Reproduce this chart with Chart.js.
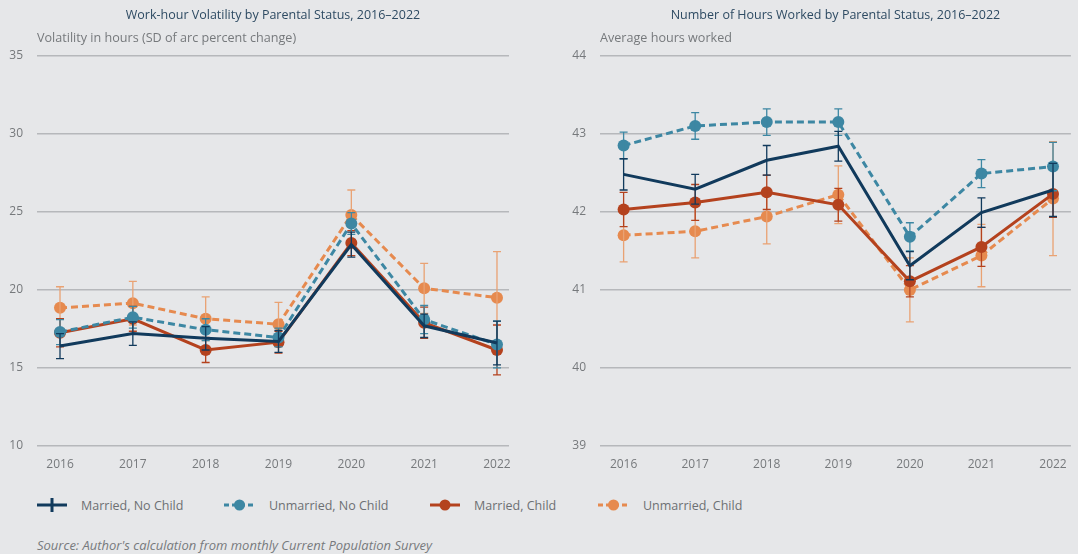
<!DOCTYPE html>
<html>
<head>
<meta charset="utf-8">
<script src="https://cdn.jsdelivr.net/npm/chart.js@4.4.1/dist/chart.umd.min.js"></script>
<style>
  body { margin: 0; background: #e6e7e9; font-family: "Open Sans", sans-serif; }
  #wrap { position: relative; width: 1078px; height: 554px; overflow: hidden; }
  .box { position: absolute; top: 0; height: 492px; }
  #leftBox { left: 0; width: 540px; }
  #rightBox { left: 540px; width: 538px; }
  .leg { position: absolute; top: 497px; height: 16px; display: flex; align-items: center; font-size: 12.5px; color: #6d7073; }
  .leg svg { margin-right: 14px; }
  #source { position: absolute; left: 37px; top: 536px; font-size: 13px; font-style: italic; color: #777a7d; }
</style>
</head>
<body>
<div id="wrap">
  <div class="box" id="leftBox"><canvas id="volChart"></canvas></div>
  <div class="box" id="rightBox"><canvas id="hoursChart"></canvas></div>

  <div class="leg" style="left:37px">
    <svg width="30" height="16"><line x1="0" y1="8" x2="30" y2="8" stroke="#113a5c" stroke-width="3"/><line x1="15" y1="1" x2="15" y2="15" stroke="#113a5c" stroke-width="3"/></svg>Married, No Child
  </div>
  <div class="leg" style="left:224px">
    <svg width="31" height="16"><line x1="0" y1="8" x2="31" y2="8" stroke="#3d87a3" stroke-width="3" stroke-dasharray="5,3"/><circle cx="15.5" cy="8" r="5.5" fill="#3d87a3"/></svg>Unmarried, No Child
  </div>
  <div class="leg" style="left:430px">
    <svg width="30" height="16"><line x1="0" y1="8" x2="30" y2="8" stroke="#b4421e" stroke-width="3"/><circle cx="15" cy="8" r="5.5" fill="#b4421e"/></svg>Married, Child
  </div>
  <div class="leg" style="left:598px">
    <svg width="31" height="16"><line x1="0" y1="8" x2="31" y2="8" stroke="#e68a4f" stroke-width="3" stroke-dasharray="5,3"/><circle cx="15.5" cy="8" r="5.5" fill="#e68a4f"/></svg>Unmarried, Child
  </div>
  <div id="source">Source: Author's calculation from monthly Current Population Survey</div>
</div>

<script>
const years = [2016, 2017, 2018, 2019, 2020, 2021, 2022];

// volatility (SD of arc percent change) and half-width of the error bars
const volMarriedNoChild = [16.4, 17.2, 16.9, 16.7, 22.9, 17.7, 16.6];
const volMarriedNoChildErr = [0.8, 0.75, 0.75, 0.7, 0.8, 0.75, 1.4];
const volUnmarriedNoChild = [17.3, 18.25, 17.45, 16.95, 24.25, 18.1, 16.5];
const volUnmarriedNoChildErr = [0.8, 0.7, 0.7, 0.6, 0.7, 0.9, 1.5];
const volMarriedChild = [17.25, 18.15, 16.15, 16.65, 23.0, 17.9, 16.15];
const volMarriedChildErr = [0.9, 0.8, 0.8, 0.7, 0.8, 1.0, 1.6];
const volUnmarriedChild = [18.85, 19.15, 18.15, 17.8, 24.8, 20.1, 19.5];
const volUnmarriedChildErr = [1.35, 1.4, 1.4, 1.4, 1.6, 1.6, 2.95];

// average weekly hours worked
const hrsMarriedNoChild = [42.48, 42.29, 42.66, 42.84, 41.31, 41.99, 42.28];
const hrsMarriedNoChildErr = [0.2, 0.19, 0.19, 0.19, 0.18, 0.19, 0.34];
const hrsUnmarriedNoChild = [42.85, 43.10, 43.15, 43.15, 41.68, 42.49, 42.58];
const hrsUnmarriedNoChildErr = [0.17, 0.17, 0.17, 0.17, 0.18, 0.18, 0.31];
const hrsMarriedChild = [42.03, 42.12, 42.25, 42.09, 41.11, 41.55, 42.23];
const hrsMarriedChildErr = [0.22, 0.23, 0.22, 0.21, 0.2, 0.25, 0.3];
const hrsUnmarriedChild = [41.70, 41.75, 41.94, 42.22, 41.00, 41.44, 42.17];
const hrsUnmarriedChildErr = [0.34, 0.34, 0.35, 0.37, 0.41, 0.4, 0.73];

const navy = '#113a5c', teal = '#3d87a3', rust = '#b4421e', peach = '#e68a4f';
const gridColor = '#b6b8bb', tickColor = '#76797c';

// vertical error bars with small caps, drawn right after each dataset
const errorBars = {
  id: 'errorBars',
  afterDatasetDraw(chart, args) {
    const ds = chart.data.datasets[args.index];
    if (!ds.errors) return;
    const ctx = chart.ctx, xs = chart.scales.x, ys = chart.scales.y;
    ctx.save();
    ctx.strokeStyle = ds.errorColor;
    ctx.lineWidth = 1.3;
    ds.data.forEach(function(p, i) {
      const px = xs.getPixelForValue(p.x);
      const top = ys.getPixelForValue(p.y + ds.errors[i]);
      const bot = ys.getPixelForValue(p.y - ds.errors[i]);
      ctx.beginPath();
      ctx.moveTo(px, top); ctx.lineTo(px, bot);
      ctx.moveTo(px - 4, top); ctx.lineTo(px + 4, top);
      ctx.moveTo(px - 4, bot); ctx.lineTo(px + 4, bot);
      ctx.stroke();
    });
    ctx.restore();
  }
};

function serie(label, values, errors, color, errColor, dashed, radius) {
  return {
    label: label,
    data: years.map((y, i) => ({ x: y, y: values[i] })),
    errors: errors,
    errorColor: errColor,
    borderColor: color,
    backgroundColor: color,
    borderWidth: 3,
    borderDash: dashed ? [7, 4] : [],
    pointRadius: radius,
    pointBorderWidth: 0,
    tension: 0
  };
}

function crearGrafico(idCanvas, titulo, subtitulo, datasets, yMin, yMax, yStep, xMin, xMax, axisWidth, padRight) {
  const ctx = document.getElementById(idCanvas).getContext('2d');
  return new Chart(ctx, {
    type: 'line',
    data: { datasets: datasets },
    options: {
      responsive: true,
      maintainAspectRatio: false,
      animation: false,
      layout: { padding: { left: 0, right: padRight, top: 0, bottom: 9.6 } },
      plugins: {
        legend: { display: false },
        tooltip: { enabled: false },
        title: {
          display: true, text: titulo, fullSize: false,
          color: '#2e4b63', font: { family: 'Open Sans', size: 12.5, weight: 'normal' },
          padding: { top: 8, bottom: 7 }
        },
        subtitle: {
          display: true, text: subtitulo, fullSize: false, align: 'start',
          color: '#76797c', font: { family: 'Open Sans', size: 12.6 },
          padding: { top: 1, bottom: 9.6 }
        }
      },
      scales: {
        x: {
          type: 'linear', min: xMin, max: xMax,
          afterBuildTicks: function(scale) { scale.ticks = years.map(v => ({ value: v })); },
          grid: { display: false, drawTicks: false },
          border: { display: false },
          ticks: {
            color: tickColor, padding: 11, autoSkip: false, maxRotation: 0,
            font: { family: 'Open Sans', size: 12 },
            callback: v => String(v)
          }
        },
        y: {
          min: yMin, max: yMax,
          afterFit: function(scale) { scale.width = axisWidth; },
          grid: { color: gridColor, lineWidth: 1.6, drawTicks: false },
          border: { display: false },
          ticks: {
            stepSize: yStep, color: tickColor, padding: 14,
            font: { family: 'Open Sans', size: 12 }
          }
        }
      }
    },
    plugins: [errorBars]
  });
}

crearGrafico('volChart',
  'Work-hour Volatility by Parental Status, 2016\u20132022',
  'Volatility in hours (SD of arc percent change)',
  [
    serie('Married, No Child', volMarriedNoChild, volMarriedNoChildErr, navy, navy, false, 0),
    serie('Unmarried, No Child', volUnmarriedNoChild, volUnmarriedNoChildErr, teal, teal, true, 6),
    serie('Married, Child', volMarriedChild, volMarriedChildErr, rust, rust, false, 6),
    serie('Unmarried, Child', volUnmarriedChild, volUnmarriedChildErr, peach, '#e9a273', true, 6)
  ],
  10, 35, 5, 2015.684, 2022.165, 37, 31);

crearGrafico('hoursChart',
  'Number of Hours Worked by Parental Status, 2016\u20132022',
  'Average hours worked',
  [
    serie('Married, No Child', hrsMarriedNoChild, hrsMarriedNoChildErr, navy, navy, false, 0),
    serie('Unmarried, No Child', hrsUnmarriedNoChild, hrsUnmarriedNoChildErr, teal, teal, true, 6),
    serie('Married, Child', hrsMarriedChild, hrsMarriedChildErr, rust, rust, false, 6),
    serie('Unmarried, Child', hrsUnmarriedChild, hrsUnmarriedChildErr, peach, '#e9a273', true, 6)
  ],
  39, 44, 1, 2015.67, 2022.25, 60, 0);
</script>
</body>
</html>
